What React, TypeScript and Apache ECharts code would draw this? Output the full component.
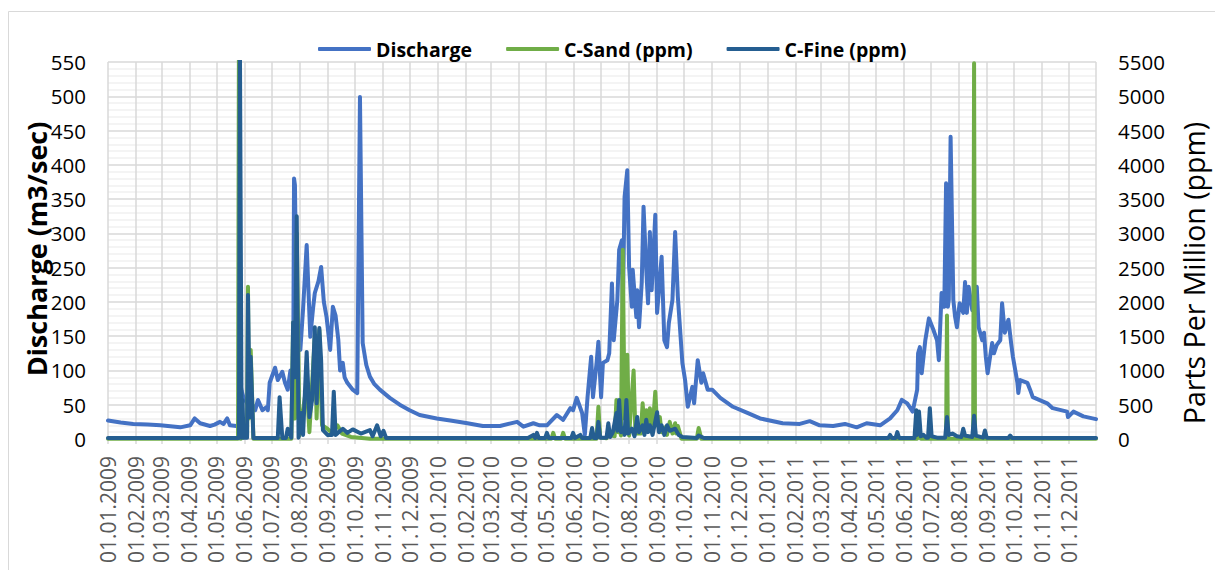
import React, { useEffect, useRef } from "react";
import * as echarts from "echarts";

const pad = (n: number) => (n < 10 ? "0" + n : "" + n);

// Category axis: every day from 01.01.2009 to 31.12.2011
function buildDays(): string[] {
  const out: string[] = [];
  const d = new Date(Date.UTC(2009, 0, 1));
  const end = Date.UTC(2011, 11, 31);
  while (d.getTime() <= end) {
    out.push(`${pad(d.getUTCDate())}.${pad(d.getUTCMonth() + 1)}.${d.getUTCFullYear()}`);
    d.setUTCDate(d.getUTCDate() + 1);
  }
  return out;
}
const days = buildDays();

// Discharge (m3/sec), left axis
const discharge: [string, number][] = [
  ["01.01.2009", 27], ["15.01.2009", 24], ["29.01.2009", 22], ["14.02.2009", 21], ["28.02.2009", 20],
  ["22.03.2009", 17], ["02.04.2009", 20], ["07.04.2009", 30], ["13.04.2009", 23], ["24.04.2009", 19],
  ["29.04.2009", 21], ["05.05.2009", 25], ["09.05.2009", 22], ["13.05.2009", 30], ["16.05.2009", 20],
  ["23.05.2009", 19], ["25.05.2009", 18], ["27.05.2009", 85], ["29.05.2009", 70], ["31.05.2009", 61],
  ["04.06.2009", 52], ["07.06.2009", 57], ["13.06.2009", 42], ["16.06.2009", 57], ["21.06.2009", 42],
  ["26.06.2009", 47], ["27.06.2009", 42], ["29.06.2009", 82], ["05.07.2009", 104], ["08.07.2009", 86],
  ["13.07.2009", 98], ["16.07.2009", 82], ["19.07.2009", 72], ["22.07.2009", 100], ["25.07.2009", 76],
  ["26.07.2009", 380], ["27.07.2009", 370], ["29.07.2009", 170], ["02.08.2009", 130], ["05.08.2009", 190],
  ["09.08.2009", 283], ["13.08.2009", 149], ["16.08.2009", 190], ["18.08.2009", 213], ["22.08.2009", 230],
  ["25.08.2009", 251], ["28.08.2009", 200], ["31.08.2009", 178], ["04.09.2009", 130], ["07.09.2009", 193],
  ["10.09.2009", 180], ["13.09.2009", 145], ["15.09.2009", 100], ["18.09.2009", 111], ["20.09.2009", 90],
  ["23.09.2009", 82], ["29.09.2009", 72], ["04.10.2009", 67], ["07.10.2009", 499], ["10.10.2009", 140],
  ["14.10.2009", 108], ["18.10.2009", 91], ["23.10.2009", 80], ["29.10.2009", 72], ["09.11.2009", 60],
  ["20.11.2009", 50], ["01.12.2009", 42], ["12.12.2009", 35], ["31.12.2009", 30], ["15.01.2010", 27],
  ["03.02.2010", 23], ["20.02.2010", 19], ["11.03.2010", 19], ["30.03.2010", 25], ["06.04.2010", 18],
  ["17.04.2010", 23], ["24.04.2010", 20], ["02.05.2010", 20], ["13.05.2010", 35], ["20.05.2010", 28],
  ["28.05.2010", 45], ["31.05.2010", 42], ["04.06.2010", 60], ["10.06.2010", 38], ["13.06.2010", 6],
  ["16.06.2010", 61], ["20.06.2010", 120], ["22.06.2010", 61], ["26.06.2010", 111], ["28.06.2010", 142],
  ["01.07.2010", 61], ["03.07.2010", 111], ["08.07.2010", 115], ["10.07.2010", 125], ["13.07.2010", 227],
  ["15.07.2010", 144], ["19.07.2010", 203], ["21.07.2010", 276], ["24.07.2010", 290], ["25.07.2010", 188],
  ["27.07.2010", 353], ["30.07.2010", 392], ["01.08.2010", 251], ["04.08.2010", 193], ["05.08.2010", 247],
  ["09.08.2010", 178], ["10.08.2010", 217], ["12.08.2010", 163], ["15.08.2010", 228], ["17.08.2010", 339],
  ["20.08.2010", 247], ["22.08.2010", 198], ["24.08.2010", 302], ["26.08.2010", 217], ["30.08.2010", 327],
  ["01.09.2010", 184], ["04.09.2010", 232], ["06.09.2010", 266], ["09.09.2010", 144], ["12.09.2010", 134],
  ["14.09.2010", 169], ["18.09.2010", 203], ["21.09.2010", 302], ["24.09.2010", 207], ["29.09.2010", 111],
  ["02.10.2010", 86], ["05.10.2010", 47], ["10.10.2010", 76], ["12.10.2010", 52], ["16.10.2010", 115],
  ["20.10.2010", 82], ["22.10.2010", 96], ["27.10.2010", 72], ["01.11.2010", 72], ["10.11.2010", 60],
  ["24.11.2010", 47], ["10.12.2010", 38], ["24.12.2010", 30], ["18.01.2011", 23], ["06.02.2011", 22],
  ["17.02.2011", 26], ["28.02.2011", 20], ["15.03.2011", 19], ["28.03.2011", 22], ["10.04.2011", 17],
  ["21.04.2011", 23], ["06.05.2011", 20], ["17.05.2011", 30], ["25.05.2011", 42], ["30.05.2011", 57],
  ["05.06.2011", 52], ["11.06.2011", 40], ["16.06.2011", 72], ["17.06.2011", 125], ["19.06.2011", 134],
  ["21.06.2011", 96], ["25.06.2011", 144], ["29.06.2011", 176], ["04.07.2011", 159], ["08.07.2011", 144],
  ["10.07.2011", 115], ["13.07.2011", 213], ["16.07.2011", 193], ["18.07.2011", 373], ["20.07.2011", 193],
  ["21.07.2011", 203], ["23.07.2011", 441], ["26.07.2011", 203], ["28.07.2011", 178], ["30.07.2011", 163],
  ["02.08.2011", 198], ["06.08.2011", 184], ["08.08.2011", 229], ["10.08.2011", 184], ["12.08.2011", 222],
  ["16.08.2011", 188], ["18.08.2011", 203], ["21.08.2011", 222], ["23.08.2011", 163], ["27.08.2011", 144],
  ["29.08.2011", 155], ["31.08.2011", 120], ["02.09.2011", 96], ["07.09.2011", 140], ["09.09.2011", 125],
  ["12.09.2011", 137], ["16.09.2011", 144], ["18.09.2011", 198], ["21.09.2011", 155], ["25.09.2011", 174],
  ["28.09.2011", 140], ["30.09.2011", 120], ["05.10.2011", 82], ["06.10.2011", 67], ["08.10.2011", 86],
  ["16.10.2011", 82], ["19.10.2011", 72], ["22.10.2011", 61], ["07.11.2011", 52], ["13.11.2011", 45],
  ["29.11.2011", 40], ["30.11.2011", 32], ["06.12.2011", 40], ["17.12.2011", 33], ["31.12.2011", 29],
];

// C-Sand (ppm), right axis
const cSand: [string, number][] = [
  ["01.01.2009", 5], ["25.05.2009", 5], ["26.05.2009", 6000], ["28.05.2009", 5], ["04.06.2009", 50],
  ["05.06.2009", 2220], ["06.06.2009", 300], ["08.06.2009", 1300], ["11.06.2009", 5], ["23.07.2009", 5],
  ["25.07.2009", 1700], ["27.07.2009", 300], ["29.07.2009", 3000], ["01.08.2009", 50], ["09.08.2009", 800],
  ["12.08.2009", 100], ["18.08.2009", 1500], ["20.08.2009", 300], ["23.08.2009", 1590], ["26.08.2009", 200],
  ["01.09.2009", 150], ["05.09.2009", 100], ["12.09.2009", 200], ["17.09.2009", 80], ["27.09.2009", 30],
  ["18.10.2009", 5], ["07.05.2010", 5], ["09.05.2010", 90], ["11.05.2010", 5], ["18.05.2010", 5],
  ["20.05.2010", 90], ["22.05.2010", 5], ["26.06.2010", 5], ["28.06.2010", 470], ["30.06.2010", 20],
  ["07.07.2010", 10], ["09.07.2010", 60], ["16.07.2010", 40], ["18.07.2010", 570], ["20.07.2010", 100],
  ["21.07.2010", 300], ["23.07.2010", 50], ["25.07.2010", 2760], ["27.07.2010", 300], ["30.07.2010", 1230],
  ["01.08.2010", 50], ["06.08.2010", 1000], ["08.08.2010", 80], ["14.08.2010", 80], ["16.08.2010", 520],
  ["18.08.2010", 150], ["20.08.2010", 420], ["22.08.2010", 150], ["24.08.2010", 450], ["27.08.2010", 150],
  ["30.08.2010", 690], ["01.09.2010", 200], ["04.09.2010", 320], ["06.09.2010", 100], ["10.09.2010", 170],
  ["12.09.2010", 60], ["15.09.2010", 250], ["18.09.2010", 80], ["21.09.2010", 230], ["22.09.2010", 80],
  ["24.09.2010", 190], ["28.09.2010", 5], ["15.10.2010", 5], ["17.10.2010", 160], ["20.10.2010", 5],
  ["16.06.2011", 5], ["18.06.2011", 130], ["20.06.2011", 5], ["18.07.2011", 5], ["19.07.2011", 1800],
  ["20.07.2011", 5], ["17.08.2011", 5], ["18.08.2011", 5480], ["19.08.2011", 5], ["31.12.2011", 5],
];

// C-Fine (ppm), right axis
const cFine: [string, number][] = [
  ["01.01.2009", 15], ["26.05.2009", 15], ["27.05.2009", 6000], ["29.05.2009", 20], ["30.05.2009", 570],
  ["31.05.2009", 20], ["04.06.2009", 20], ["05.06.2009", 2100], ["07.06.2009", 320], ["08.06.2009", 1200],
  ["11.06.2009", 15], ["08.07.2009", 15], ["10.07.2009", 610], ["13.07.2009", 15], ["17.07.2009", 15],
  ["19.07.2009", 150], ["23.07.2009", 20], ["25.07.2009", 1700], ["27.07.2009", 900], ["29.07.2009", 3250],
  ["31.07.2009", 20], ["03.08.2009", 380], ["05.08.2009", 60], ["09.08.2009", 1270], ["12.08.2009", 320],
  ["15.08.2009", 570], ["18.08.2009", 1630], ["20.08.2009", 520], ["23.08.2009", 1620], ["25.08.2009", 1150],
  ["27.08.2009", 130], ["01.09.2009", 60], ["06.09.2009", 60], ["08.09.2009", 690], ["10.09.2009", 60],
  ["18.09.2009", 150], ["23.09.2009", 90], ["29.09.2009", 140], ["08.10.2009", 80], ["18.10.2009", 130],
  ["21.10.2009", 40], ["26.10.2009", 200], ["30.10.2009", 40], ["02.11.2009", 120], ["05.11.2009", 15],
  ["11.04.2010", 15], ["17.04.2010", 60], ["19.04.2010", 15], ["21.04.2010", 90], ["23.04.2010", 15],
  ["30.04.2010", 15], ["02.05.2010", 90], ["04.05.2010", 15], ["29.05.2010", 15], ["31.05.2010", 90],
  ["02.06.2010", 15], ["08.06.2010", 60], ["10.06.2010", 15], ["19.06.2010", 15], ["21.06.2010", 160],
  ["23.06.2010", 15], ["26.06.2010", 15], ["28.06.2010", 250], ["30.06.2010", 20], ["07.07.2010", 20],
  ["09.07.2010", 230], ["11.07.2010", 30], ["14.07.2010", 100], ["18.07.2010", 380], ["19.07.2010", 120],
  ["21.07.2010", 570], ["23.07.2010", 100], ["26.07.2010", 160], ["27.07.2010", 60], ["29.07.2010", 570],
  ["31.07.2010", 80], ["04.08.2010", 150], ["07.08.2010", 40], ["10.08.2010", 320], ["12.08.2010", 100],
  ["16.08.2010", 200], ["18.08.2010", 60], ["20.08.2010", 280], ["22.08.2010", 100], ["24.08.2010", 200],
  ["27.08.2010", 60], ["01.09.2010", 390], ["03.09.2010", 100], ["06.09.2010", 200], ["09.09.2010", 60],
  ["12.09.2010", 200], ["15.09.2010", 120], ["21.09.2010", 150], ["25.09.2010", 60], ["29.09.2010", 30],
  ["15.10.2010", 15], ["17.10.2010", 50], ["23.10.2010", 15], ["15.05.2011", 15], ["17.05.2011", 60],
  ["19.05.2011", 15], ["23.05.2011", 15], ["25.05.2011", 100], ["27.05.2011", 15], ["13.06.2011", 15],
  ["15.06.2011", 420], ["16.06.2011", 60], ["18.06.2011", 400], ["20.06.2011", 40], ["23.06.2011", 60],
  ["26.06.2011", 20], ["28.06.2011", 20], ["30.06.2011", 450], ["02.07.2011", 40], ["08.07.2011", 20],
  ["17.07.2011", 20], ["19.07.2011", 320], ["21.07.2011", 60], ["25.07.2011", 80], ["30.07.2011", 40],
  ["04.08.2011", 30], ["06.08.2011", 150], ["08.08.2011", 50], ["16.08.2011", 30], ["18.08.2011", 340],
  ["20.08.2011", 50], ["28.08.2011", 20], ["30.08.2011", 125], ["01.09.2011", 20], ["25.09.2011", 15],
  ["27.09.2011", 50], ["29.09.2011", 15], ["31.12.2011", 15],
];

const leftTicks = { min: 0, max: 550, interval: 50 };
const rightTicks = { min: 0, max: 5500, interval: 500 };

const FONT = "'Open Sans', 'Noto Sans', sans-serif";

export default function App() {
  const ref = useRef<HTMLDivElement>(null);
  useEffect(() => {
    if (!ref.current) return;
    const chart = echarts.init(ref.current, undefined, { renderer: "svg" });
    const idx = new Map<string, number>();
    days.forEach((d, i) => idx.set(d, i));
    const toData = (arr: [string, number][]) => arr.map(([d, v]) => [idx.get(d) as number, v]);
    const isMonthStart = (_i: number, v: string) => v.startsWith("01.");
    const lineStyle = (color: string) => ({ color, width: 4, cap: "round", join: "round" });

    chart.setOption({
      animation: false,
      textStyle: { fontFamily: FONT },
      graphic: [
        {
          type: "rect",
          shape: { x: 8.5, y: 11.5, width: 1300, height: 700 },
          style: { fill: "none", stroke: "#d9d9d9", lineWidth: 1 },
          silent: true,
        },
        {
          type: "text",
          x: 36,
          y: 249,
          rotation: Math.PI / 2,
          style: {
            text: "Discharge (m3/sec)",
            font: `bold 27px ${FONT}`,
            fill: "#000",
            align: "center",
            verticalAlign: "middle",
          },
        },
        {
          type: "text",
          x: 1194,
          y: 273,
          rotation: Math.PI / 2,
          style: {
            text: "Parts Per Million (ppm)",
            font: `28.5px ${FONT}`,
            fill: "#000",
            align: "center",
            verticalAlign: "middle",
          },
        },
      ],
      legend: {
        left: 313,
        top: 34,
        itemWidth: 53,
        itemHeight: 4,
        itemGap: 34,
        icon: "roundRect",
        textStyle: { fontFamily: FONT, fontWeight: "bold", fontSize: 19.5, color: "#000" },
        data: ["Discharge", "C-Sand (ppm)", "C-Fine (ppm)"],
      },
      grid: { left: 108, right: 119, top: 62, bottom: 131 },
      xAxis: {
        type: "category",
        data: days,
        boundaryGap: false,
        axisLine: { show: true, lineStyle: { color: "#d9d9d9", width: 1.5 } },
        axisTick: { show: true, interval: isMonthStart, length: 5, lineStyle: { color: "#d9d9d9", width: 1.5 } },
        axisLabel: {
          interval: isMonthStart,
          rotate: 90,
          margin: 17,
          fontSize: 21,
          fontFamily: FONT,
          color: "#595959",
        },
        splitLine: {
          show: true,
          interval: (i: number, v: string) => v.startsWith("01.") || i === days.length - 1,
          lineStyle: { color: "#d9d9d9", width: 1.5 },
        },
      },
      yAxis: [
        {
          type: "value",
          ...leftTicks,
          axisLine: { show: false },
          axisTick: { show: false },
          axisLabel: { margin: 22, fontSize: 20.5, fontFamily: FONT, color: "#000", formatter: (v: number) => String(v) },
          splitLine: { show: true, lineStyle: { color: "#d9d9d9", width: 1.5 } },
          minorTick: { show: false, splitNumber: 5 },
          minorSplitLine: { show: true, lineStyle: { color: "#f0f0f0", width: 1.5 } },
        },
        {
          type: "value",
          ...rightTicks,
          position: "right",
          axisLine: { show: false },
          axisTick: { show: false },
          axisLabel: { margin: 22, fontSize: 20.5, fontFamily: FONT, color: "#000", formatter: (v: number) => String(v) },
          splitLine: { show: false },
        },
      ],
      series: [
        {
          name: "Discharge",
          type: "line",
          yAxisIndex: 0,
          showSymbol: false,
          symbol: "none",
          color: "#4472C4",
          lineStyle: lineStyle("#4472C4"),
          data: toData(discharge),
        },
        {
          name: "C-Sand (ppm)",
          type: "line",
          yAxisIndex: 1,
          showSymbol: false,
          symbol: "none",
          color: "#70AD47",
          lineStyle: lineStyle("#70AD47"),
          data: toData(cSand),
        },
        {
          name: "C-Fine (ppm)",
          type: "line",
          yAxisIndex: 1,
          showSymbol: false,
          symbol: "none",
          color: "#255E91",
          lineStyle: lineStyle("#255E91"),
          data: toData(cFine),
        },
      ],
    });
    return () => chart.dispose();
  }, []);
  return (
    <div style={{ position: "fixed", left: 0, top: 0, width: 1215, height: 570, background: "#fff" }}>
      <div ref={ref} style={{ width: 1215, height: 570 }} />
    </div>
  );
}
